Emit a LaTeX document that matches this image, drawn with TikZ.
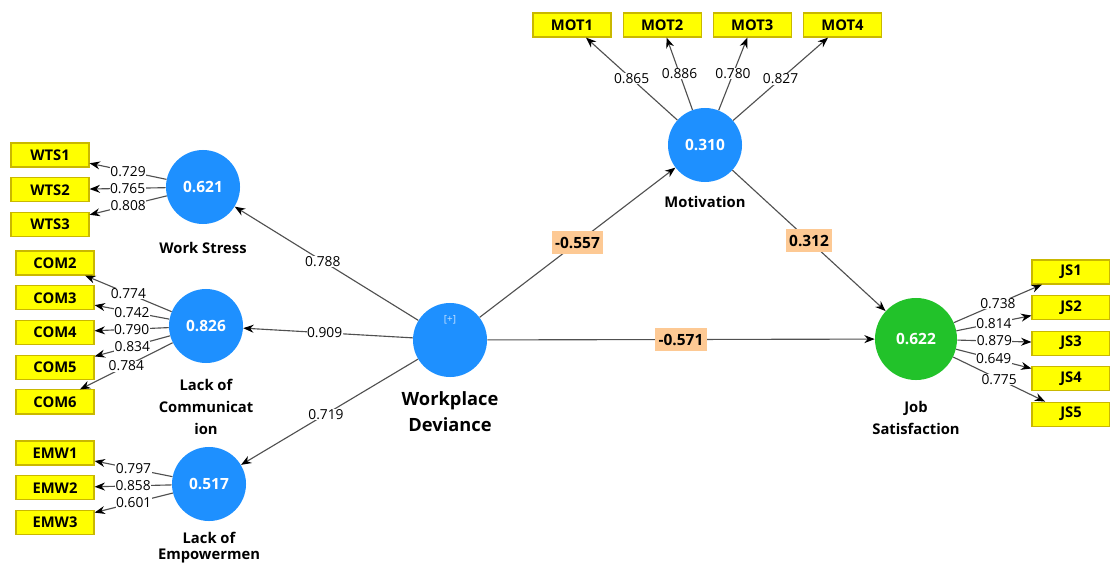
\documentclass[tikz,border=0pt]{standalone}
\usepackage{fontspec}
\setmainfont{Open Sans}
\usetikzlibrary{arrows.meta,positioning}
\definecolor{lvblue}{HTML}{1E90FF}
\definecolor{lvgreen}{HTML}{22C22A}
\definecolor{indyellow}{HTML}{FFFF00}
\definecolor{indborder}{HTML}{C9B800}
\definecolor{coeforange}{HTML}{FDC994}
\definecolor{pathgray}{HTML}{505050}

\begin{document}
\begin{tikzpicture}[
    x=0.025cm, y=-0.025cm,
    font=\small,
    latent/.style={circle, fill=lvblue, minimum size=1.85cm, inner sep=0pt, text=white, font=\bfseries\fontsize{11}{13}\selectfont},
    indic/.style={draw=indborder, line width=0.8pt, fill=indyellow, minimum width=1.95cm, minimum height=0.6cm, inner sep=0pt, font=\bfseries\fontsize{10.5}{12}\selectfont},
    lvname/.style={font=\bfseries\fontsize{10.5}{15.5}\selectfont, align=center, inner sep=1pt},
    coef/.style={fill=coeforange, inner xsep=2.5pt, inner ysep=4pt, font=\bfseries\fontsize{11}{12}\selectfont},
    ldg/.style={fill=white, inner sep=0.3pt, font=\fontsize{9.8}{11}\selectfont},
    arrow/.style={-{Stealth[length=2.6mm, width=2mm, color=black]}, draw=pathgray, line width=0.8pt}
]
\useasboundingbox (0,0) rectangle (1110,564);

% Latent variables
\node[latent] (ws) at (203,187) {0.621};
\node[latent] (loc) at (206,326) {0.826};
\node[latent] (loe) at (209,484) {0.517};
\node[latent] (wd) at (450,340) {};
\node[latent] (mot) at (705,145) {0.310};
\node[latent, fill=lvgreen, minimum size=2.05cm] (js) at (916,339) {0.622};
\node[font=\scriptsize, text=white!75!lvblue] (wdplus) at ([yshift=0.5cm]wd.center) {[+]};

\node[lvname, below=4mm of ws] (wsname) {Work Stress};
\node[lvname, below=3.6mm of loc] (locname) {Lack of\\Communicat\\ion};
\node[lvname, below=2.2mm of loe, font=\bfseries\fontsize{10.5}{12}\selectfont] (loename) {Lack of\\Empowermen};
\node[lvname, below=3.2mm of wd, font=\bfseries\fontsize{13}{18.5}\selectfont] (wdname) {Workplace\\Deviance};
\node[lvname, below=3mm of mot] (motname) {Motivation};
\node[lvname, below=4.8mm of js] (jsname) {Job\\Satisfaction};

% Work Stress indicators
\node[indic] (wts1) at (50,155) {WTS1};
\node[indic, below=2.4mm of wts1] (wts2) {WTS2};
\node[indic, below=2.4mm of wts2] (wts3) {WTS3};

% Lack of Communication indicators
\node[indic] (com2) at (55,263) {COM2};
\node[indic, below=2.4mm of com2] (com3) {COM3};
\node[indic, below=2.4mm of com3] (com4) {COM4};
\node[indic, below=2.4mm of com4] (com5) {COM5};
\node[indic, below=2.4mm of com5] (com6) {COM6};

% Lack of Empowerment indicators
\node[indic] (emw1) at (55,453) {EMW1};
\node[indic, below=2.4mm of emw1] (emw2) {EMW2};
\node[indic, below=2.4mm of emw2] (emw3) {EMW3};

% Motivation indicators
\node[indic] (mot1) at (572,25) {MOT1};
\node[indic, right=2.75mm of mot1] (mot2) {MOT2};
\node[indic, right=2.75mm of mot2] (mot3) {MOT3};
\node[indic, right=2.75mm of mot3] (mot4) {MOT4};

% Job Satisfaction indicators
\node[indic] (js1) at (1071,272) {JS1};
\node[indic, below=2.6mm of js1] (js2) {JS2};
\node[indic, below=2.6mm of js2] (js3) {JS3};
\node[indic, below=2.6mm of js3] (js4) {JS4};
\node[indic, below=2.6mm of js4] (js5) {JS5};

% Outer loadings
\draw[arrow] (ws) -- node[ldg] {0.729} (wts1);
\draw[arrow] (ws) -- node[ldg] {0.765} (wts2);
\draw[arrow] (ws) -- node[ldg] {0.808} (wts3);

\draw[arrow] (loc) -- node[ldg] {0.774} (com2);
\draw[arrow] (loc) -- node[ldg] {0.742} (com3);
\draw[arrow] (loc) -- node[ldg] {0.790} (com4);
\draw[arrow] (loc) -- node[ldg] {0.834} (com5);
\draw[arrow] (loc) -- node[ldg] {0.784} (com6);

\draw[arrow] (loe) -- node[ldg] {0.797} (emw1);
\draw[arrow] (loe) -- node[ldg] {0.858} (emw2);
\draw[arrow] (loe) -- node[ldg] {0.601} (emw3);

\draw[arrow] (mot) -- node[ldg] {0.865} (mot1);
\draw[arrow] (mot) -- node[ldg] {0.886} (mot2);
\draw[arrow] (mot) -- node[ldg] {0.780} (mot3);
\draw[arrow] (mot) -- node[ldg] {0.827} (mot4);

\draw[arrow] (js) -- node[ldg] {0.738} (js1);
\draw[arrow] (js) -- node[ldg] {0.814} (js2);
\draw[arrow] (js) -- node[ldg] {0.879} (js3);
\draw[arrow] (js) -- node[ldg] {0.649} (js4);
\draw[arrow] (js) -- node[ldg] {0.775} (js5);

% Structural paths
\draw[arrow] (wd) -- node[ldg, pos=0.52] {0.788} (ws);
\draw[arrow] (wd) -- node[ldg, pos=0.52] {0.909} (loc);
\draw[arrow] (wd) -- node[ldg, pos=0.52] {0.719} (loe);
\draw[arrow] (wd) -- node[coef] {-0.557} (mot);
\draw[arrow] (wd) -- node[coef] {-0.571} (js);
\draw[arrow] (mot) -- node[coef] {0.312} (js);

\end{tikzpicture}
\end{document}
